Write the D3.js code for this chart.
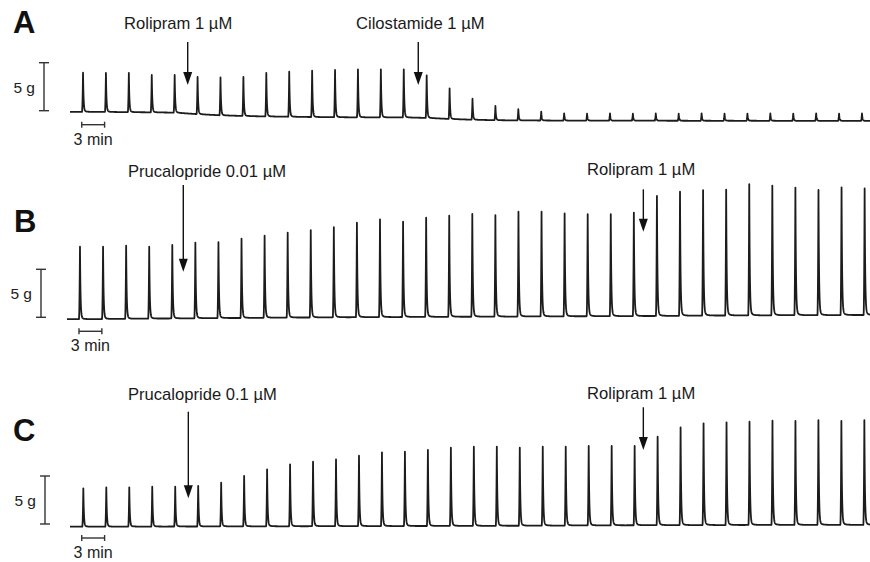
<!DOCTYPE html>
<html>
<head>
<meta charset="utf-8">
<script src="https://cdn.jsdelivr.net/npm/d3@7/dist/d3.min.js"></script>
<style>
    body { margin: 0; background: #fff; }
    svg { display: block; font-family: "Liberation Sans", Arial, Helvetica, sans-serif; }
</style>
</head>
<body>
<svg id="viz" width="870" height="562"></svg>
<script>
// peak tension (g) of every contraction (35 per panel, one every ~3 min)
const peaksA = [3.96, 3.93, 3.93, 3.72, 3.72, 3.51, 3.46, 3.51, 3.93, 4.06,
    4.17, 4.24, 4.31, 4.31, 4.31, 3.69, 2.33, 1.25, 0.49, 0.15,
    -0.10, -0.27, -0.30, -0.28, -0.30, -0.29, -0.30, -0.28, -0.30, -0.30,
    -0.29, -0.30, -0.28, -0.30, -0.29];
const peaksB = [7.36, 7.36, 7.46, 7.36, 7.53, 7.78, 7.84, 8.19, 8.50, 8.83,
    9.09, 9.38, 9.86, 10.21, 9.96, 10.38, 10.59, 10.76, 10.63, 11.00,
    11.00, 10.81, 10.74, 10.74, 10.91, 12.64, 13.09, 13.24, 13.30, 13.86,
    13.72, 13.51, 13.26, 13.54, 13.44];
const peaksC = [3.72, 3.82, 3.82, 3.89, 3.89, 3.96, 4.30, 5.00, 5.70, 6.22,
    6.49, 6.74, 7.11, 7.47, 7.53, 7.71, 7.95, 8.05, 8.05, 7.95,
    8.05, 8.05, 8.13, 8.13, 8.13, 9.09, 10.07, 10.49, 10.59, 10.66,
    10.76, 10.73, 10.83, 10.73, 10.83];

// resting tension (g) just before each contraction
const baseA = [-0.12, -0.13, -0.15, -0.17, -0.20, -0.36, -0.48, -0.55, -0.60, -0.63,
    -0.66, -0.68, -0.69, -0.70, -0.70, -0.75, -0.86, -0.94, -0.99, -1.01,
    -1.02, -1.03, -1.03, -1.04, -1.04, -1.04, -1.05, -1.05, -1.05, -1.05,
    -1.05, -1.06, -1.06, -1.06, -1.06];
const baseB = [-0.20, -0.18, -0.16, -0.14, -0.12, -0.10, -0.08, -0.07, -0.05, -0.03,
    -0.02, 0.00, 0.01, 0.02, 0.03, 0.04, 0.05, 0.06, 0.07, 0.08,
    0.09, 0.10, 0.11, 0.12, 0.12, 0.14, 0.16, 0.18, 0.19, 0.20,
    0.21, 0.22, 0.22, 0.23, 0.24];
const baseC = [-0.28, -0.28, -0.27, -0.27, -0.26, -0.26, -0.25, -0.25, -0.24, -0.24,
    -0.23, -0.23, -0.22, -0.22, -0.21, -0.21, -0.20, -0.20, -0.19, -0.18,
    -0.17, -0.16, -0.15, -0.14, -0.13, -0.12, -0.12, -0.11, -0.11, -0.10,
    -0.10, -0.10, -0.09, -0.09, -0.09];

// first contraction (min) and interval between contractions (min)
const firstPeak = { A: 1.71, B: 1.31, C: 1.75 };
const interval = { A: 3.007, B: 3.029, C: 3.015 };

// drug additions: time (min), label, label start (min), arrow top / tip (g)
const drugsA = [
    { t: 15.45, label: "Rolipram 1 µM", lt: 7.09, lg: 8.51, top: 7.16, tip: 2.68 },
    { t: 45.71, label: "Cilostamide 1 µM", lt: 37.54, lg: 8.51, top: 7.16, tip: 2.68 }
];
const drugsB = [
    { t: 14.87, label: "Prucalopride 0.01 µM", lt: 7.61, lg: 14.61, top: 13.78, tip: 4.75 },
    { t: 75.25, label: "Rolipram 1 µM", lt: 67.86, lg: 14.82, top: 13.33, tip: 8.92 }
];
const drugsC = [
    { t: 15.53, label: "Prucalopride 0.1 µM", lt: 7.61, lg: 12.92, top: 11.70, tip: 2.68 },
    { t: 75.25, label: "Rolipram 1 µM", lt: 67.86, lg: 12.99, top: 12.16, tip: 7.71 }
];

var svg = d3.select("#viz");
var ink = "#1c1c1c";

// time axis shared by the three recordings
const x = d3.scaleLinear().domain([0, 105]).range([70, 870]);

const rise = 0.14;

const makeTrace = (peaks, base, first, period, start) => {
    const tp = peaks.map((d, i) => first + i * period);
    const restAt = d3.scaleLinear().domain(tp).range(base).clamp(true);
    let times = d3.range(start, 106, 0.02);
    tp.forEach(p => times.push(p, p - rise, p + 0.01));
    times.sort((a, b) => a - b);
    return times.map(t => {
        let v = restAt(t);
        tp.forEach((p, i) => {
            const dt = t - p;
            const h = peaks[i] - base[i];
            if (dt >= -rise && dt < 0) v += h * Math.pow((dt + rise) / rise, 2);
            else if (dt >= 0 && dt < 2.9) v += h * (0.975 * Math.exp(-dt / 0.07) + 0.025 * Math.exp(-dt / 0.35));
        });
        return [t, v];
    });
};

const drawPanel = (p) => {
    const y = d3.scaleLinear().domain([0, 5]).range([p.y0, p.y0 - 48]);
    const g = svg.append("g").attr("class", "panel");

    g.append("text")
        .attr("x", p.letterX)
        .attr("y", p.letterY)
        .attr("font-size", 31)
        .attr("font-weight", "bold")
        .attr("fill", "#111")
        .text(p.name);

    // contraction trace
    const line = d3.line().x(d => x(d[0])).y(d => y(d[1]));
    g.append("path")
        .datum(makeTrace(p.peaks, p.base, firstPeak[p.name], interval[p.name], p.start))
        .attr("d", line)
        .attr("fill", "none")
        .attr("stroke", ink)
        .attr("stroke-width", 1.8)
        .attr("stroke-linejoin", "round");

    // 5 g bar
    const sb = g.append("g").attr("stroke", "#333").attr("stroke-width", 1.4);
    sb.append("line").attr("x1", p.barX).attr("x2", p.barX).attr("y1", y(0)).attr("y2", y(5));
    [0, 5].forEach(v => {
        sb.append("line").attr("x1", p.barX - 5).attr("x2", p.barX + 5).attr("y1", y(v)).attr("y2", y(v));
    });
    g.append("text")
        .attr("x", p.barX - 9)
        .attr("y", y(2.5) + 6)
        .attr("text-anchor", "end")
        .attr("font-size", 15.5)
        .attr("fill", "#222")
        .text("5 g");

    // 3 min bar
    const ty = p.y0 + 14;
    const tb = g.append("g").attr("stroke", "#333").attr("stroke-width", 1.4);
    tb.append("line").attr("x1", x(p.barT)).attr("x2", x(p.barT + 3)).attr("y1", ty).attr("y2", ty);
    [p.barT, p.barT + 3].forEach(t => {
        tb.append("line").attr("x1", x(t)).attr("x2", x(t)).attr("y1", ty - 3).attr("y2", ty + 3);
    });
    g.append("text")
        .attr("x", x(p.barT + 1.5))
        .attr("y", p.y0 + 34)
        .attr("text-anchor", "middle")
        .attr("font-size", 16)
        .attr("fill", "#222")
        .text("3 min");

    // drug additions
    const ann = g.selectAll("g.drug")
        .data(p.drugs)
        .enter()
        .append("g")
        .attr("class", "drug");
    ann.append("text")
        .attr("x", d => x(d.lt))
        .attr("y", d => y(d.lg))
        .attr("font-size", 16.6)
        .attr("fill", "#1a1a1a")
        .text(d => d.label);
    ann.append("line")
        .attr("x1", d => x(d.t))
        .attr("x2", d => x(d.t))
        .attr("y1", d => y(d.top))
        .attr("y2", d => y(d.tip) - 10)
        .attr("stroke", "#111")
        .attr("stroke-width", 1.4);
    ann.append("path")
        .attr("d", d => {
            const ax = x(d.t), ay = y(d.tip);
            return `M${ax - 4.5},${ay - 13}L${ax + 4.5},${ay - 13}L${ax},${ay}Z`;
        })
        .attr("fill", "#111");
};

drawPanel({ name: "A", peaks: peaksA, base: baseA, drugs: drugsA, y0: 110.7, start: 0,
    letterX: 13, letterY: 33, barX: 44, barT: 1.54 });
drawPanel({ name: "B", peaks: peaksB, base: baseB, drugs: drugsB, y0: 317.3, start: -0.4,
    letterX: 14, letterY: 232, barX: 41, barT: 1.18 });
drawPanel({ name: "C", peaks: peaksC, base: baseC, drugs: drugsC, y0: 524, start: 0,
    letterX: 13, letterY: 441, barX: 45, barT: 1.54 });
</script>
</body>
</html>
